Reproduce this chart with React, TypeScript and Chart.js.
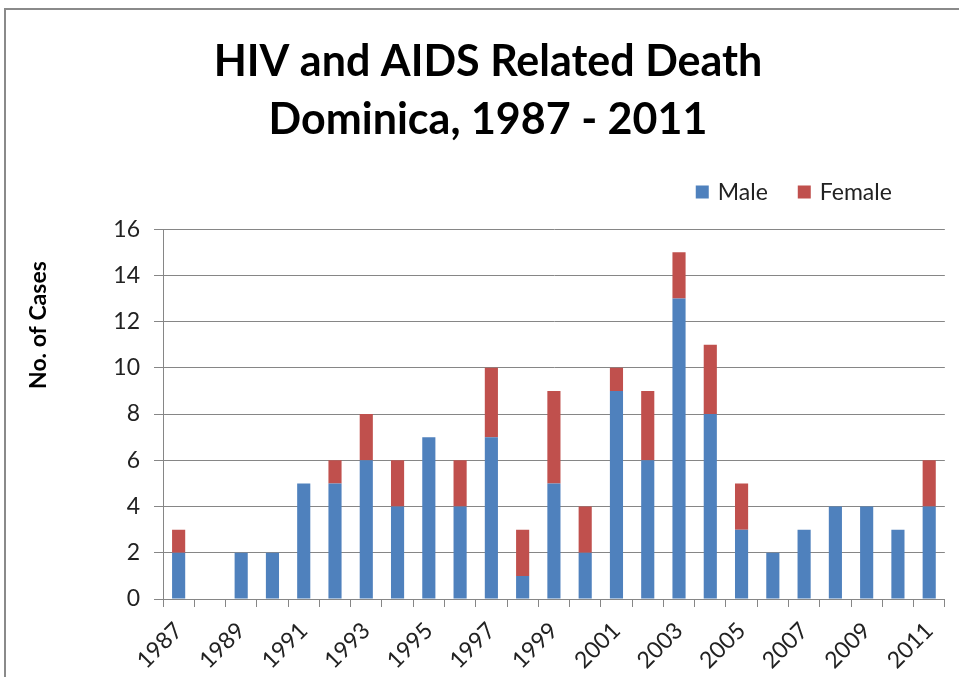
import React, { useEffect, useRef } from 'react';
import { Chart, registerables } from 'chart.js';

Chart.register(...registerables);

const years = ['1987','1988','1989','1990','1991','1992','1993','1994','1995','1996','1997','1998','1999','2000','2001','2002','2003','2004','2005','2006','2007','2008','2009','2010','2011'];
const male = [2,0,2,2,5,5,6,4,7,4,7,1,5,2,9,6,13,8,3,2,3,4,4,3,4];
const female = [1,0,0,0,0,1,2,2,0,2,3,2,4,2,1,3,2,3,2,0,0,0,0,0,2];
const seriesNames = ['Male', 'Female'];
const seriesColors = ['#4F81BD', '#C0504D'];
const titleLines = ['HIV and AIDS Related Death', 'Dominica, 1987 - 2011'];
const yAxisTitle = 'No. of Cases';

const FONT = 'Lato, "Open Sans", sans-serif';

const customLegend = {
  id: 'customLegend',
  afterDraw(chart: any) {
    const ctx = chart.ctx;
    const area = chart.chartArea;
    ctx.save();
    ctx.font = `23px ${FONT}`;
    ctx.textBaseline = 'middle';
    const box = 13;
    const gap = 9;
    const itemGap = 30;
    const ds = chart.data.datasets;
    const widths = ds.map((d: any) => box + gap + ctx.measureText(d.label).width);
    const total = widths.reduce((a: number, b: number) => a + b, 0) + itemGap * (ds.length - 1);
    let x = area.right - 53 - total;
    const y = 192;
    ds.forEach((d: any, i: number) => {
      ctx.fillStyle = d.backgroundColor;
      ctx.fillRect(x, y - box / 2, box, box);
      ctx.fillStyle = '#222';
      ctx.fillText(d.label, x + box + gap, y + 1);
      x += widths[i] + itemGap;
    });
    // y-axis title
    ctx.font = `bold 23px ${FONT}`;
    ctx.fillStyle = '#000';
    ctx.textAlign = 'center';
    ctx.textBaseline = 'middle';
    ctx.translate(area.left - 124, area.top + 96);
    ctx.rotate(-Math.PI / 2);
    ctx.fillText(yAxisTitle, 0, 0);
    ctx.restore();
  },
};

export default function App() {
  const ref = useRef<HTMLCanvasElement | null>(null);
  useEffect(() => {
    if (!ref.current) return;
    const chart = new Chart(ref.current, {
      type: 'bar',
      data: {
        labels: years,
        datasets: [
          { label: seriesNames[0], data: male, backgroundColor: seriesColors[0], barPercentage: 0.42, categoryPercentage: 1 },
          { label: seriesNames[1], data: female, backgroundColor: seriesColors[1], barPercentage: 0.42, categoryPercentage: 1 },
        ],
      },
      options: {
        animation: false,
        responsive: true,
        maintainAspectRatio: false,
        layout: { padding: { left: 31, right: 14, bottom: 0 } },
        plugins: {
          legend: { display: false },
          tooltip: { enabled: false },
          title: {
            display: true,
            text: titleLines,
            color: '#000',
            font: { family: FONT, size: 43, weight: 'bold', lineHeight: 1.35 },
            padding: { top: 33, bottom: 80 },
          },
        },
        scales: {
          x: {
            stacked: true,
            grid: { offset: true, drawOnChartArea: false, drawTicks: true, tickLength: 8, color: '#868686' },
            border: { color: '#868686' },
            ticks: {
              autoSkip: false,
              maxRotation: 45,
              minRotation: 45,
              color: '#222',
              padding: 10,
              font: { family: FONT, size: 23 },
              callback: (_v: any, i: number) => (i % 2 === 0 ? years[i] : ''),
            },
            afterFit: (scale: any) => { scale.height = 78; },
          },
          y: {
            stacked: true,
            min: 0,
            max: 16,
            ticks: { stepSize: 2, color: '#222', padding: 14, font: { family: FONT, size: 23 } },
            grid: { color: '#868686', tickLength: 9 },
            border: { color: '#868686' },
            afterFit: (scale: any) => { scale.width = 132; },
          },
        },
      },
      plugins: [customLegend],
    });
    return () => chart.destroy();
  }, []);
  return (
    <div style={{ position: 'fixed', left: 0, top: 0, width: 959, height: 677, background: '#fff' }}>
      <div style={{ position: 'absolute', left: 4, top: 8, right: -4, bottom: -4, borderLeft: '2px solid #8a8a8a', borderTop: '2px solid #8a8a8a' }} />
      <div style={{ position: 'absolute', left: 0, top: 0, width: 959, height: 677 }}>
        <canvas ref={ref} />
      </div>
    </div>
  );
}
